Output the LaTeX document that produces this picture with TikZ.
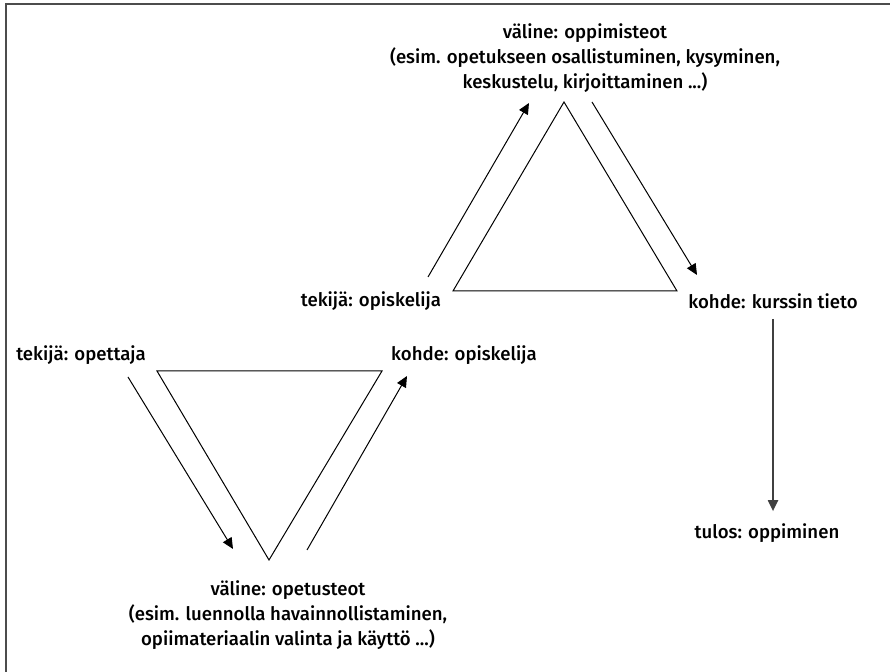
\documentclass[tikz,border=0pt]{standalone}
\usepackage{fontspec}
\setmainfont{Fira Sans}[UprightFont=* Medium]
\usetikzlibrary{arrows.meta}

\begin{document}
\begin{tikzpicture}[x=0.5pt,y=-0.5pt,
    txt/.style={align=center,inner sep=1pt,font=\fontsize{9.3}{12.5}\selectfont},
    tri/.style={line width=0.5pt,line join=miter},
    arr/.style={line width=0.5pt,-{Triangle[length=5.5pt,width=5pt]}}]
  \useasboundingbox (0,0) rectangle (890,672);
  \draw[line width=1pt,gray!60!black] (6,672) -- (6,4) -- (890,4);
  % oppiminen
  \node[txt] (valine1) at (585,58) {väline: oppimisteot\\(esim. opetukseen osallistuminen, kysyminen,\\keskustelu, kirjoittaminen ...)};
  \node[txt] (tekija1) at (371,301) {tekijä: opiskelija};
  \node[txt] (kohde1) at (773,301) {kohde: kurssin tieto};
  \node[txt] (tulos) at (767,533) {tulos: oppiminen};
  \draw[tri] (564,102) -- (677,291) -- (453,291) -- cycle;
  \coordinate (a1) at (428,277) ; \coordinate (b1) at (529,103) ;
  \coordinate (a2) at (592,102) ; \coordinate (b2) at (697,275) ;
  \draw[arr] (a1) -- (b1) ;
  \draw[arr] (a2) -- (b2) ;
  \draw[arr,line width=1pt,gray!50!black,shorten <=4pt,shorten >=5pt] %
    (kohde1.south) -- (kohde1.south |- tulos.north) ;
  % opetus
  \node[txt] (tekija2) at (81,355) {tekijä: opettaja};
  \node[txt] (kohde2) at (464,355) {kohde: opiskelija};
  \node[txt] (valine2) at (288,615) {väline: opetusteot\\(esim. luennolla havainnollistaminen,\\opiimateriaalin valinta ja käyttö ...)};
  \draw[tri] (157,371) -- (382,371) -- (269,560) -- cycle;
  \coordinate (a3) at (128,377) ; \coordinate (b3) at (233,549) ;
  \coordinate (a4) at (307,550) ; \coordinate (b4) at (407,376) ;
  \draw[arr] (a3) -- (b3) ;
  \draw[arr] (a4) -- (b4) ;
\end{tikzpicture}
\end{document}
